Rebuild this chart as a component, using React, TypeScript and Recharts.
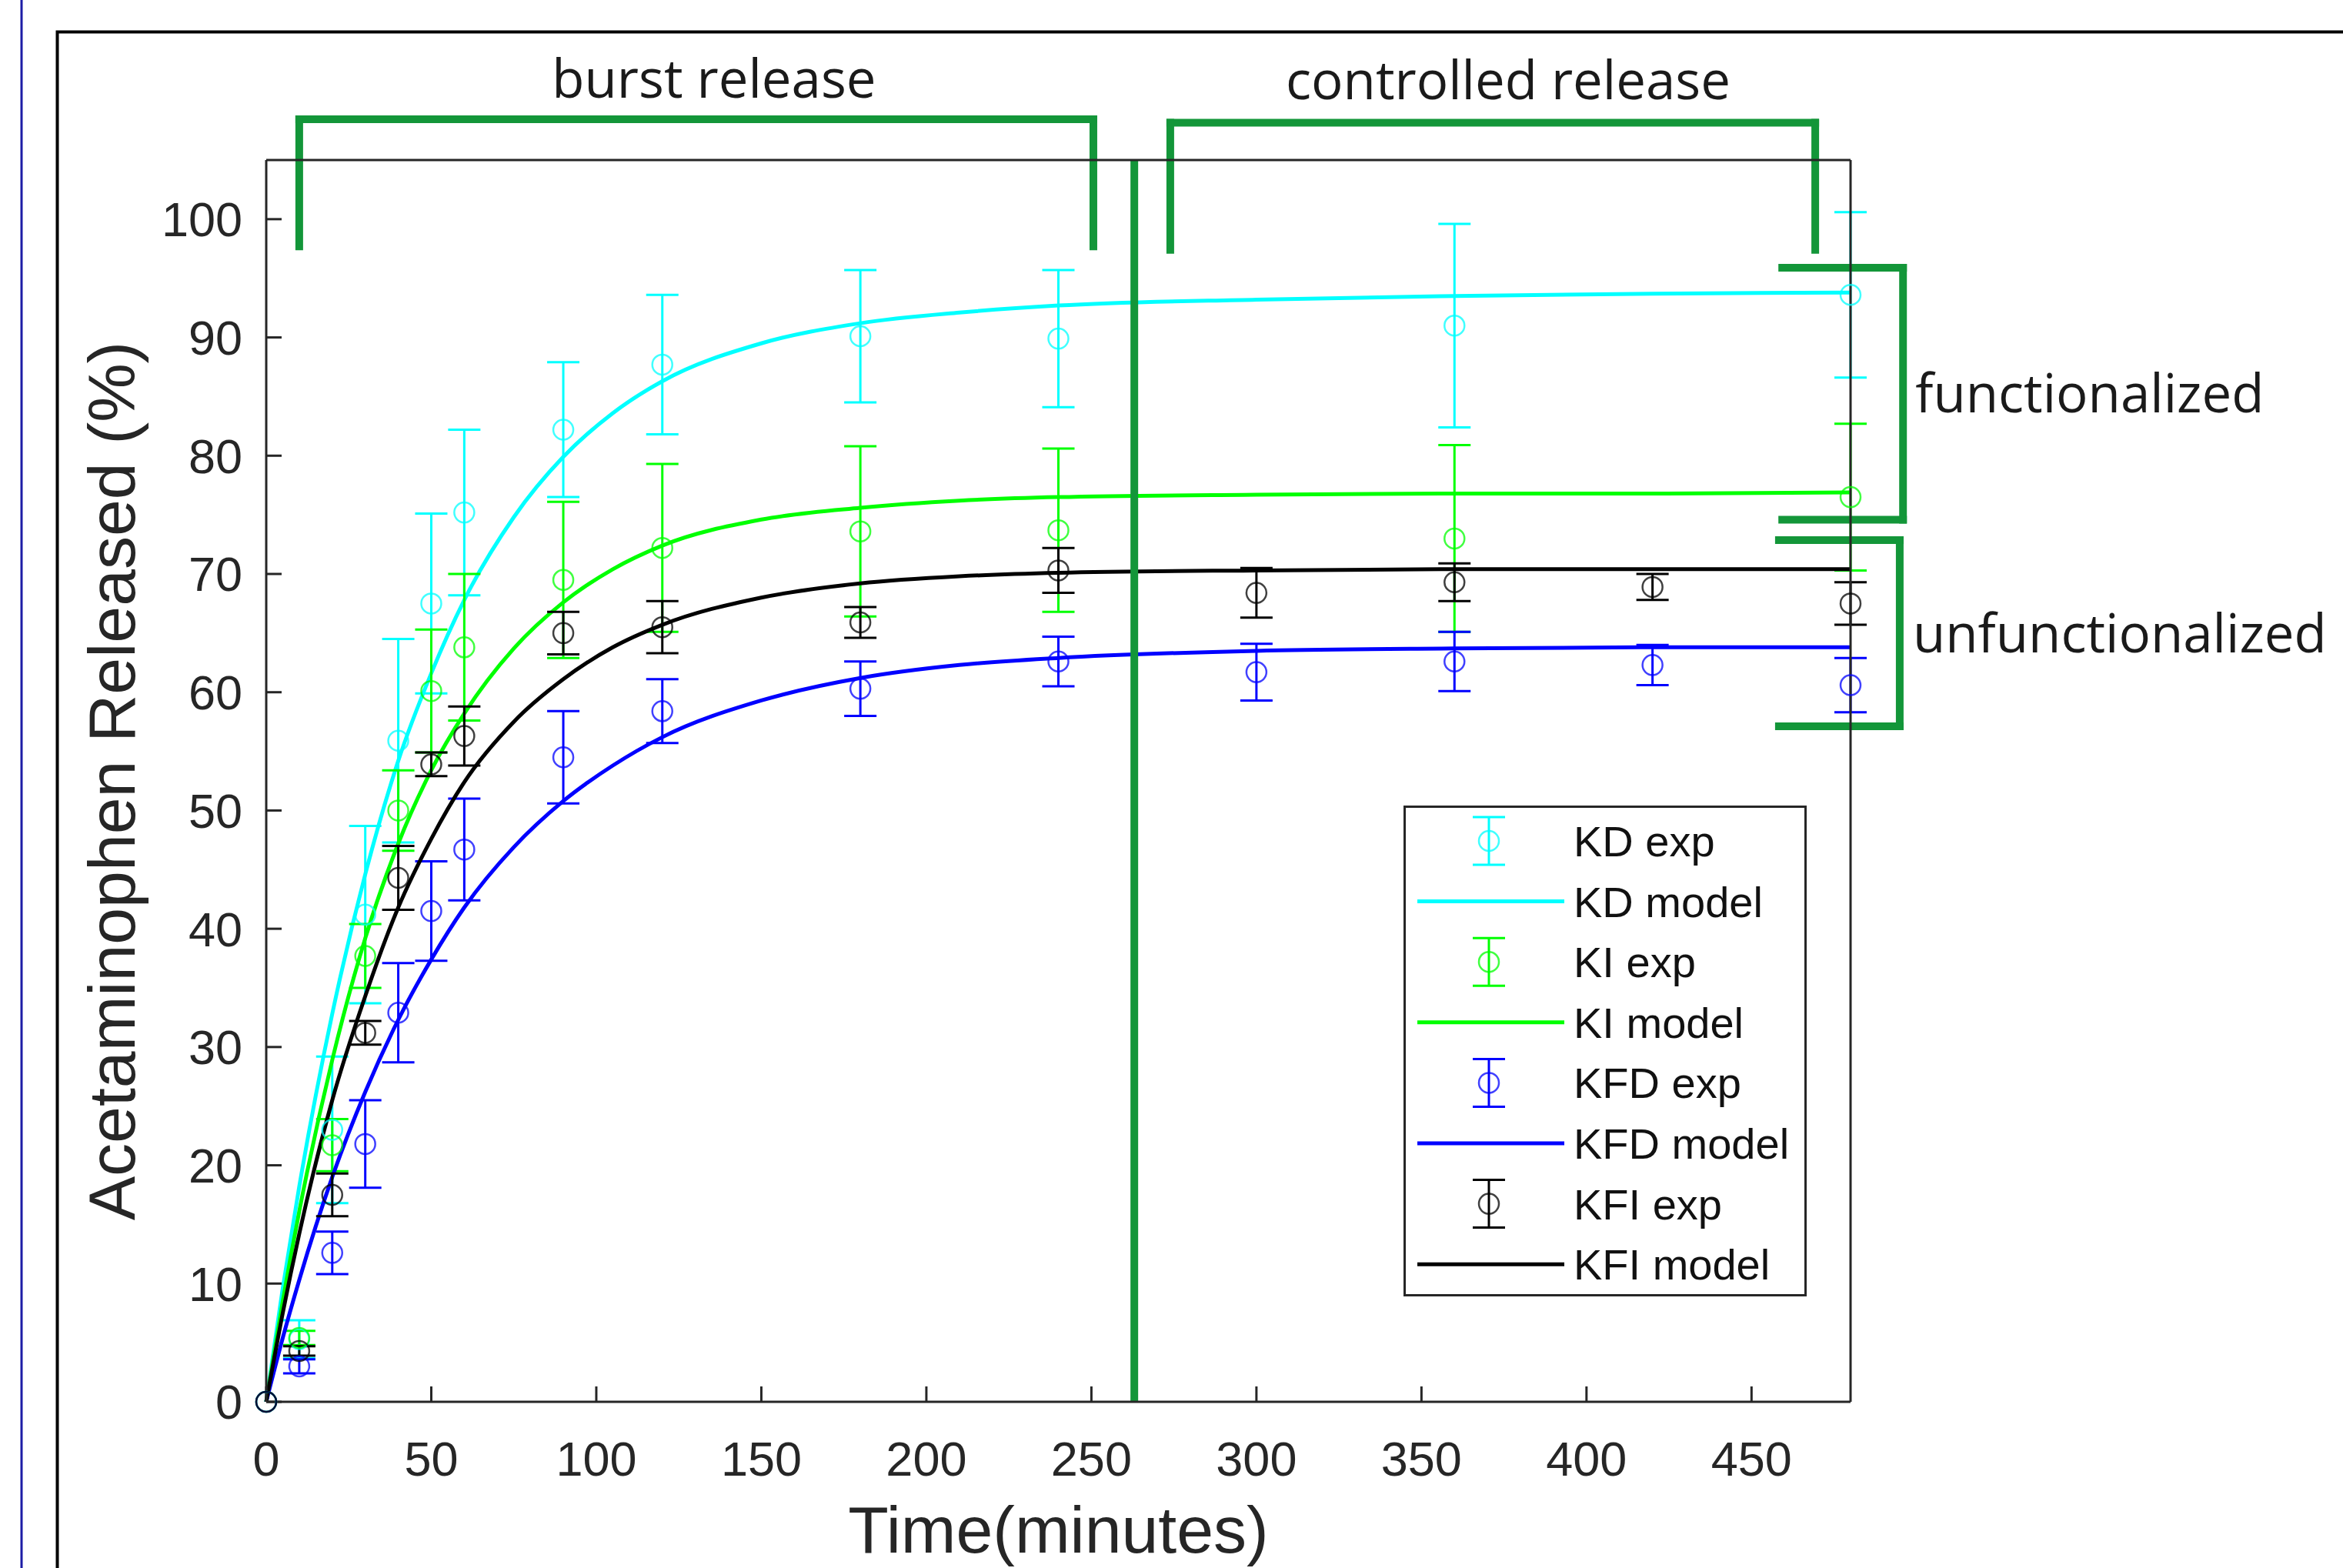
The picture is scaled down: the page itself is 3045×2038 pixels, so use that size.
import React from "react";
import {
  ComposedChart,
  Line,
  Scatter,
  ErrorBar,
  XAxis,
  YAxis,
  ReferenceLine,
} from "recharts";

// axis ticks
const xTicks = [0, 50, 100, 150, 200, 250, 300, 350, 400, 450];
const yTicks = [0, 10, 20, 30, 40, 50, 60, 70, 80, 90, 100];

// model curves
const modelTimes = [0, 5, 10, 20, 30, 40, 50, 60, 75, 90, 105, 120, 150, 180, 210, 240, 300, 360, 420, 480];
const kdModel = [0, 9.6, 18.2, 32.8, 44.6, 54.2, 61.6, 67.8, 74.8, 79.9, 83.6, 86.3, 89.5, 91.2, 92.1, 92.7, 93.2, 93.5, 93.7, 93.8];
const kiModel = [0, 8.5, 16.1, 28.9, 39.2, 47.2, 53.4, 58.2, 63.7, 67.6, 70.4, 72.4, 74.6, 75.6, 76.2, 76.5, 76.7, 76.8, 76.8, 76.9];
const kfdModel = [0, 5.4, 10.3, 19.0, 26.2, 32.3, 37.4, 41.8, 46.9, 50.8, 53.8, 56.2, 59.3, 61.2, 62.3, 62.9, 63.5, 63.7, 63.8, 63.8];
const kfiModel = [0, 7.5, 14.2, 25.5, 34.3, 41.8, 47.6, 52.4, 57.5, 61.1, 63.8, 65.7, 68.0, 69.2, 69.8, 70.1, 70.3, 70.4, 70.4, 70.4];

// experimental points, functionalized samples
const funcTimes = [0, 10, 20, 30, 40, 50, 60, 90, 120, 180, 240, 360, 480];
const kdExp = [0, 5.3, 23.0, 41.2, 55.9, 67.5, 75.2, 82.2, 87.7, 90.1, 89.9, 91.0, 93.6];
const kdErr = [0, 1.6, 6.2, 7.5, 8.6, 7.6, 7.0, 5.7, 5.9, 5.6, 5.8, 8.6, 7.0];
const kiExp = [0, 5.4, 21.7, 37.7, 50.0, 60.1, 63.8, 69.5, 72.2, 73.6, 73.7, 73.0, 76.5];
const kiErr = [0, 0.6, 2.2, 2.7, 3.4, 5.2, 6.2, 6.6, 7.1, 7.2, 6.9, 7.9, 6.2];

// experimental points, unfunctionalized samples
const unfTimes = [0, 10, 20, 30, 40, 50, 60, 90, 120, 180, 240, 300, 360, 420, 480];
const kfdExp = [0, 3.0, 12.6, 21.8, 32.9, 41.5, 46.7, 54.5, 58.4, 60.3, 62.6, 61.7, 62.6, 62.3, 60.6];
const kfdErr = [0, 0.6, 1.8, 3.7, 4.2, 4.2, 4.3, 3.9, 2.7, 2.3, 2.1, 2.4, 2.5, 1.7, 2.3];
const kfiExp = [0, 4.3, 17.5, 31.2, 44.3, 53.9, 56.3, 65.0, 65.5, 65.9, 70.3, 68.4, 69.3, 68.9, 67.5];
const kfiErr = [0, 0.4, 1.8, 1.0, 2.7, 1.0, 2.5, 1.8, 2.2, 1.3, 1.9, 2.1, 1.6, 1.1, 1.8];

// annotation positions in data units
const phaseSplit = 263;
const burstSpan = [10, 250.6];
const controlledSpan = [273.9, 469.3];
const bracketTop = [108.45, 108.16];
const bracketFoot = 97.7;
const sideX = [459.3, 495.9];
const funcSpan = [95.89, 74.59];
const unfSpan = [72.86, 57.12];

const AXIS = "#262626";
const GREEN = "#139639";
const TICK_FONT = "'Liberation Sans', Arial, sans-serif";
const NOTE_FONT = "'Open Sans', 'Noto Sans', sans-serif";

const modelData = modelTimes.map((t, i) => ({
  t,
  kd: kdModel[i],
  ki: kiModel[i],
  kfd: kfdModel[i],
  kfi: kfiModel[i],
}));

const toPoints = (times: number[], vals: number[], errs: number[]) =>
  times.map((t, i) => ({ t, v: vals[i], err: errs[i] }));

const series = [
  { name: "KD", key: "kd", color: "#00FFFF", exp: toPoints(funcTimes, kdExp, kdErr) },
  { name: "KI", key: "ki", color: "#00FF00", exp: toPoints(funcTimes, kiExp, kiErr) },
  { name: "KFD", key: "kfd", color: "#0000FF", exp: toPoints(unfTimes, kfdExp, kfdErr) },
  { name: "KFI", key: "kfi", color: "#000000", exp: toPoints(unfTimes, kfiExp, kfiErr) },
];

const ring = (color: string) => (props: any) => (
  <circle cx={props.cx} cy={props.cy} r={13} fill="none" stroke={color} strokeOpacity={0.75} strokeWidth={2.5} />
);

const noteStyle = { fontSize: 69, fontFamily: NOTE_FONT, fill: "#1a1a1a" };

function LegendBox() {
  const rowH = 78.6;
  return (
    <svg
      width={524}
      height={638}
      style={{ position: "absolute", left: 1824, top: 1047, overflow: "visible" }}
    >
      <rect x={1.5} y={1.5} width={521} height={635} fill="#fff" stroke={AXIS} strokeWidth={3} />
      {series.flatMap((s, i) => {
        const cyExp = 46 + rowH * 2 * i;
        const cyModel = cyExp + rowH;
        return [
          <g key={s.name + "e"}>
            <line x1={111} x2={111} y1={cyExp - 31} y2={cyExp + 31} stroke={s.color} strokeWidth={3} />
            <line x1={90} x2={132} y1={cyExp - 31} y2={cyExp - 31} stroke={s.color} strokeWidth={3} />
            <line x1={90} x2={132} y1={cyExp + 31} y2={cyExp + 31} stroke={s.color} strokeWidth={3} />
            <circle cx={111} cy={cyExp} r={13} fill="none" stroke={s.color} strokeOpacity={0.75} strokeWidth={2.5} />
            <text x={221} y={cyExp + 20} fontSize={56} fontFamily={TICK_FONT} fill="#111">
              {s.name} exp
            </text>
          </g>,
          <g key={s.name + "m"}>
            <line x1={18} x2={209} y1={cyModel} y2={cyModel} stroke={s.color} strokeWidth={5} />
            <text x={221} y={cyModel + 20} fontSize={56} fontFamily={TICK_FONT} fill="#111">
              {s.name} model
            </text>
          </g>,
        ];
      })}
    </svg>
  );
}

export default function App() {
  const axisLine = { stroke: AXIS, strokeWidth: 3 };
  const tickStyle = { fontSize: 63, fill: AXIS, fontFamily: TICK_FONT };
  const bracket = { stroke: GREEN, strokeWidth: 10, strokeLinecap: "square" as const, ifOverflow: "visible" as const };

  return (
    <div style={{ position: "absolute", left: 0, top: 0, width: 3045, height: 2038, background: "#fff" }}>
      <svg width={3045} height={2038} style={{ position: "absolute", left: 0, top: 0 }}>
        <line x1={28} x2={28} y1={0} y2={2038} stroke="#1c1ca6" strokeWidth={3} />
        <path d="M74.5 2038 V41.5 H3045" fill="none" stroke="#000" strokeWidth={4} />
      </svg>
      <div style={{ position: "absolute", left: 0, top: 0 }}>
        <ComposedChart
          width={3045}
          height={2038}
          data={modelData}
          margin={{ top: 207, right: 639, bottom: 0, left: 0 }}
        >
          <XAxis
            dataKey="t"
            type="number"
            domain={[0, 480]}
            ticks={xTicks}
            interval={0}
            height={216}
            tickSize={-20}
            tickMargin={71}
            axisLine={axisLine}
            tickLine={axisLine}
            tick={tickStyle}
            label={{
              value: "Time(minutes)",
              position: "insideBottom",
              offset: 20,
              style: { fontSize: 86, fontFamily: TICK_FONT, fill: AXIS },
            }}
          />
          <XAxis
            xAxisId="top"
            orientation="top"
            dataKey="t"
            type="number"
            domain={[0, 480]}
            ticks={xTicks}
            interval={0}
            height={1}
            tickSize={-20}
            axisLine={axisLine}
            tickLine={axisLine}
            tick={false}
          />
          <YAxis
            type="number"
            domain={[0, 105]}
            ticks={yTicks}
            interval={0}
            width={346}
            tickSize={-20}
            tickMargin={51}
            axisLine={axisLine}
            tickLine={axisLine}
            tick={tickStyle}
            label={{
              value: "Acetaminophen Released (%)",
              angle: -90,
              position: "insideLeft",
              offset: 144,
              style: { textAnchor: "middle", fontSize: 86, fontFamily: TICK_FONT, fill: AXIS },
            }}
          />
          <YAxis
            yAxisId="right"
            orientation="right"
            type="number"
            domain={[0, 105]}
            ticks={yTicks}
            interval={0}
            width={1}
            tickSize={-20}
            axisLine={axisLine}
            tickLine={axisLine}
            tick={false}
          />

          {series.map((s) => [
            <Scatter
              key={s.key + "-exp"}
              data={s.exp}
              dataKey="v"
              shape={ring(s.color)}
              isAnimationActive={false}
            >
              <ErrorBar dataKey="err" direction="y" width={21} stroke={s.color} strokeWidth={3} />
            </Scatter>,
            <Line
              key={s.key + "-model"}
              dataKey={s.key}
              type="monotone"
              stroke={s.color}
              strokeWidth={5}
              dot={false}
              activeDot={false}
              isAnimationActive={false}
            />,
          ])}

          <ReferenceLine x={phaseSplit} stroke={GREEN} strokeWidth={10} />

          {/* burst release bracket */}
          <ReferenceLine
            {...bracket}
            segment={[{ x: burstSpan[0], y: bracketTop[0] }, { x: burstSpan[1], y: bracketTop[0] }]}
            label={{ value: "burst release", position: "top", offset: 28, dx: 23, style: noteStyle }}
          />
          <ReferenceLine {...bracket} segment={[{ x: burstSpan[0], y: bracketTop[0] }, { x: burstSpan[0], y: bracketFoot }]} />
          <ReferenceLine {...bracket} segment={[{ x: burstSpan[1], y: bracketTop[0] }, { x: burstSpan[1], y: bracketFoot }]} />

          {/* controlled release bracket */}
          <ReferenceLine
            {...bracket}
            segment={[{ x: controlledSpan[0], y: bracketTop[1] }, { x: controlledSpan[1], y: bracketTop[1] }]}
            label={{ value: "controlled release", position: "top", offset: 30, dx: 20, style: noteStyle }}
          />
          <ReferenceLine {...bracket} segment={[{ x: controlledSpan[0], y: bracketTop[1] }, { x: controlledSpan[0], y: bracketFoot - 0.3 }]} />
          <ReferenceLine {...bracket} segment={[{ x: controlledSpan[1], y: bracketTop[1] }, { x: controlledSpan[1], y: bracketFoot - 0.3 }]} />

          {/* functionalized bracket */}
          <ReferenceLine {...bracket} segment={[{ x: sideX[0], y: funcSpan[0] }, { x: sideX[1], y: funcSpan[0] }]} />
          <ReferenceLine {...bracket} segment={[{ x: sideX[0], y: funcSpan[1] }, { x: sideX[1], y: funcSpan[1] }]} />
          <ReferenceLine
            {...bracket}
            segment={[{ x: sideX[1], y: funcSpan[0] }, { x: sideX[1], y: funcSpan[1] }]}
            label={{ value: "functionalized", position: "right", offset: 16, style: noteStyle }}
          />

          {/* unfunctionalized bracket */}
          <ReferenceLine {...bracket} segment={[{ x: sideX[0] - 1, y: unfSpan[0] }, { x: sideX[1] - 1, y: unfSpan[0] }]} />
          <ReferenceLine {...bracket} segment={[{ x: sideX[0] - 1, y: unfSpan[1] }, { x: sideX[1] - 1, y: unfSpan[1] }]} />
          <ReferenceLine
            {...bracket}
            segment={[{ x: sideX[1] - 1, y: unfSpan[0] }, { x: sideX[1] - 1, y: unfSpan[1] }]}
            label={{ value: "unfunctionalized", position: "right", offset: 17, style: noteStyle }}
          />
        </ComposedChart>
      </div>
      <LegendBox />
    </div>
  );
}
